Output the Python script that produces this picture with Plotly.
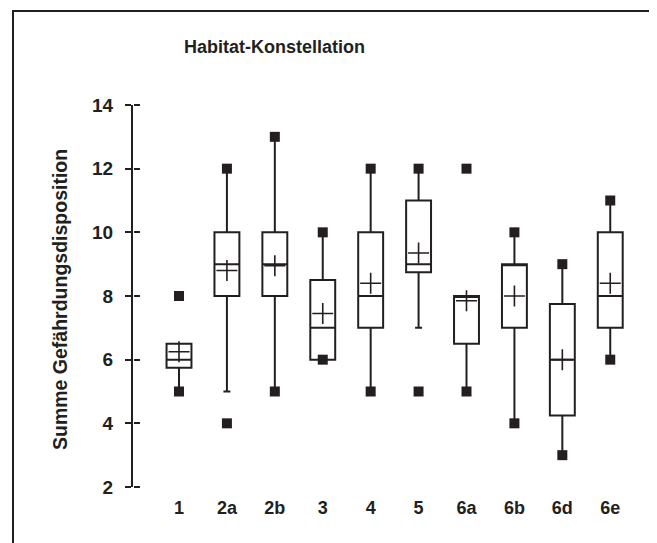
import plotly.graph_objects as go

categories = ["1", "2a", "2b", "3", "4", "5", "6a", "6b", "6d", "6e"]
q1 = [5.75, 8, 8, 6, 7, 8.75, 6.5, 7, 4.25, 7]
median = [6, 9, 9, 7, 8, 9, 8, 9, 6, 8]
q3 = [6.5, 10, 10, 8.5, 10, 11, 8, 9, 7.75, 10]
lower_whisker = [5, 5, 5, 6, 5, 7, 5, 4, 3, 6]
upper_whisker = [6.5, 12, 13, 10, 12, 12, 8, 10, 9, 11]
mean = [6.25, 8.8, 8.95, 7.45, 8.4, 9.35, 7.85, 8.0, 6.0, 8.4]
minimum = [5, 4, 5, 6, 5, 5, 5, 4, 3, 6]
maximum = [8, 12, 13, 10, 12, 12, 12, 10, 9, 11]
y_ticks = [2, 4, 6, 8, 10, 12, 14]

INK = "#231f20"
FONT = "Liberation Sans, Arial, sans-serif"

OFF = 8  # page body margin
W, H = 657 - OFF, 543 - OFF
L, R, T, B = 133 - OFF, 18, 105 - OFF, 56
pw, ph = W - L - R, H - T - B

def px_x(px):
    return (px - OFF - L) / pw

def px_y(py):
    return (H - B - (py - OFF)) / ph

fig = go.Figure()

fig.add_trace(go.Box(
    x=categories, q1=q1, median=median, q3=q3,
    lowerfence=lower_whisker, upperfence=upper_whisker,
    width=0.52, whiskerwidth=0.28,
    line=dict(color=INK, width=2), fillcolor="rgba(255,255,255,0)",
    boxpoints=False, hoverinfo="skip", showlegend=False,
))

fig.add_trace(go.Scatter(
    x=categories + categories, y=minimum + maximum, mode="markers",
    marker=dict(symbol="square", size=10, color=INK, line=dict(width=0)),
    showlegend=False, hoverinfo="skip",
))

fig.add_trace(go.Scatter(
    x=categories, y=mean, mode="markers",
    marker=dict(symbol="cross-thin", size=15, color=INK, line=dict(color=INK, width=1.6)),
    showlegend=False, hoverinfo="skip",
))

# trace on a second y axis (same range) that draws the tick halves inside the plot
fig.add_trace(go.Scatter(x=categories[:2], y=[2, 14], yaxis="y2", mode="markers",
                         marker=dict(opacity=0), showlegend=False, hoverinfo="skip"))

fig.update_layout(
    width=W, height=H,
    margin=dict(l=L, r=R, t=T, b=B, autoexpand=False),
    paper_bgcolor="white", plot_bgcolor="white",
    font=dict(family=FONT, color=INK, size=18, weight="bold"),
    xaxis=dict(
        type="category", range=[-0.96, 9.6], showline=False, showgrid=False,
        zeroline=False, ticks="", tickfont=dict(size=18, weight="bold", color=INK),
        ticklabelstandoff=8,
    ),
    yaxis=dict(
        range=[2, 14], tickvals=y_ticks, showline=True, linecolor=INK, linewidth=2,
        ticks="outside", ticklen=6, tickwidth=2, tickcolor=INK,
        showgrid=False, zeroline=False,
        tickfont=dict(size=19, weight="bold", color=INK), ticklabelstandoff=8,
    ),
    yaxis2=dict(
        range=[2, 14], tickvals=y_ticks, overlaying="y", side="right",
        anchor="free", position=0,
        ticks="outside", ticklen=6, tickwidth=2, tickcolor=INK,
        showticklabels=False, showline=False, showgrid=False, zeroline=False,
    ),
    annotations=[
        dict(text="Habitat-Konstellation", xref="paper", yref="paper",
             x=px_x(274), y=px_y(47), xanchor="center", yanchor="middle",
             showarrow=False, font=dict(size=18, weight="bold", color=INK, family=FONT)),
        dict(text="Summe Gefährdungsdisposition", xref="paper", yref="paper",
             x=px_x(60), y=px_y(300), xanchor="center", yanchor="middle", textangle=-90,
             showarrow=False, font=dict(size=19.5, weight="bold", color=INK, family=FONT)),
    ],
    shapes=[
        dict(type="line", xref="paper", yref="paper", x0=px_x(13), x1=px_x(13),
             y0=px_y(10), y1=px_y(560), line=dict(color=INK, width=2)),
        dict(type="line", xref="paper", yref="paper", x0=px_x(12), x1=px_x(670),
             y0=px_y(11), y1=px_y(11), line=dict(color=INK, width=2)),
    ],
)

fig.write_html("out.html")
